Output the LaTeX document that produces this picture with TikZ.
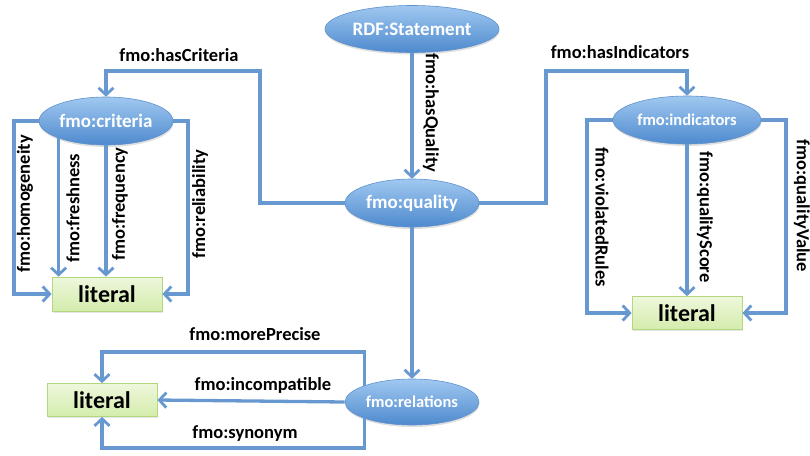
\documentclass[tikz,border=0pt]{standalone}
\usepackage{fontspec}
\setmainfont{Carlito}
\usetikzlibrary{shapes.geometric,arrows.meta,shadows}
\definecolor{linec}{RGB}{104,152,208}
\definecolor{elltop}{RGB}{160,200,240}
\definecolor{ellbot}{RGB}{78,138,206}
\definecolor{ellline}{RGB}{95,145,205}
\definecolor{littop}{RGB}{238,247,220}
\definecolor{litbot}{RGB}{212,236,172}
\definecolor{litline}{RGB}{178,215,128}
\tikzset{
  ell/.style={ellipse, inner sep=0pt, top color=elltop, bottom color=ellbot, draw=ellline, line width=0.6pt,
    text=white, font=\bfseries\fontsize{19}{22}\selectfont,
    drop shadow={opacity=0.25, shadow xshift=0.5pt, shadow yshift=-2pt}},
  litbox/.style={rectangle, inner sep=0pt, minimum width=110pt, minimum height=34pt, top color=littop, bottom color=litbot,
    draw=litline, line width=0.8pt, font=\bfseries\fontsize{24}{28}\selectfont,
    drop shadow={opacity=0.2, shadow xshift=1pt, shadow yshift=-1.5pt}},
  conn/.style={draw=linec, line width=3.3pt, -{Straight Barb[length=7pt,width=15pt,line width=2.8pt]}},
  lab/.style={font=\bfseries\fontsize{18.5}{22}\selectfont, inner sep=0pt},
  labup/.style={lab, rotate=90},
  labdown/.style={lab, rotate=-90}
}
\begin{document}
\begin{tikzpicture}[x=1pt,y=-1pt]
\useasboundingbox (0,0) rectangle (810,455);
% nodes
\node[ell, minimum width=174pt, minimum height=47pt] (stmt) at (412,29) {RDF:Statement};
\node[ell, minimum width=134pt, minimum height=48pt] (qual) at (412,203) {fmo:quality};
\node[ell, minimum width=134pt, minimum height=48pt] (crit) at (106,121) {fmo:criteria};
\node[ell, minimum width=148pt, minimum height=48pt, font=\bfseries\fontsize{16.5}{20}\selectfont] (ind) at (687,120) {fmo:indicators};
\node[ell, minimum width=134pt, minimum height=46pt, font=\bfseries\fontsize{16.5}{20}\selectfont] (rel) at (412,402) {fmo:relations};
\node[litbox] (lit1) at (107,294) {literal};
\node[litbox, minimum height=33pt] (lit2) at (687,313) {literal};
\node[litbox, minimum height=33pt] (lit3) at (102,400) {literal};
% bend coordinates
\coordinate (hc) at (260,71);
\coordinate (hi) at (546,71);
\coordinate (h1) at (14,294);
\coordinate (r1) at (188,294);
\coordinate (v1) at (587,313);
\coordinate (v2) at (786,313);
\coordinate (m1) at (102,352);
\coordinate (s1) at (102,448);
% connectors
\draw[conn] (stmt.south) -- (qual.north);
\draw[conn] (qual.west) -| (hc) -| (crit.north);
\draw[conn] (qual.east) -| (hi) -| (ind.north);
\draw[conn] (crit.west) -| (h1) -- (lit1.west);
\draw[conn] (crit.200) -- (crit.200 |- lit1.north);
\draw[conn] (crit.south) -- (crit.south |- lit1.north);
\draw[conn] (crit.east) -| (r1) -- (lit1.east);
\draw[conn] (ind.west) -| (v1) -- (lit2.west);
\draw[conn] (ind.south) -- (lit2.north);
\draw[conn] (ind.east) -| (v2) -- (lit2.east);
\draw[conn] (qual.south) -- (rel.north);
\draw[conn] (rel.161) |- (m1) -- (lit3.north);
\draw[conn] (rel.west) -- (lit3.east);
\draw[conn] (rel.199) |- (s1) -- (lit3.south);
% labels
\node[labdown] (lq) at (431,113) {fmo:hasQuality};
\node[lab] (lhc) at (179,55) {fmo:hasCriteria};
\node[lab] (lhi) at (620,52) {fmo:hasIndicators};
\node[labup] (lho) at (25,204) {fmo:homogeneity};
\node[labup] (lfr) at (73,208) {fmo:freshness};
\node[labup] (lfq) at (120,204) {fmo:frequency};
\node[labup] (lre) at (200,204) {fmo:reliability};
\node[labdown] (lvr) at (602,217) {fmo:violatedRules};
\node[labdown] (lqs) at (705,217) {fmo:qualityScore};
\node[labdown] (lqv) at (802,206) {fmo:qualityValue};
\node[lab] (lmp) at (255,334) {fmo:morePrecise};
\node[lab] (lin) at (263,385) {fmo:incompatible};
\node[lab] (lsy) at (245,434) {fmo:synonym};
\end{tikzpicture}
\end{document}
